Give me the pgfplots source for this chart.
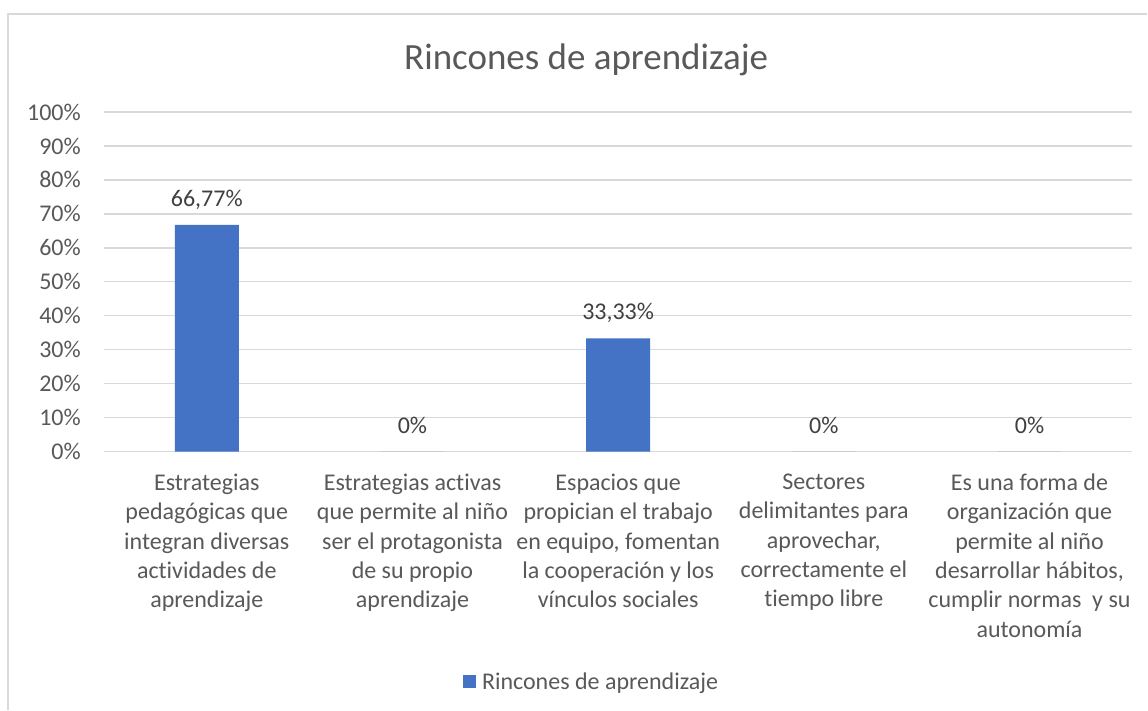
\documentclass[border=0pt]{standalone}
\usepackage{pgfplots}
\pgfplotsset{compat=1.18}
\usepackage{fontspec}
\setmainfont{Carlito}[Ligatures=NoCommon]
\definecolor{barblue}{HTML}{4472C4}
\definecolor{gridgray}{HTML}{D9D9D9}
\definecolor{txtgray}{HTML}{595959}
\definecolor{lblgray}{HTML}{404040}
\begin{document}
\begin{tikzpicture}[x=1pt,y=1pt]
\path[fill=white] (0,0) rectangle (1148,710);
\draw[gridgray, line width=1.3pt] (8,0) -- (8,696) -- (1148,696);
\node[anchor=base, text=txtgray, font=\fontsize{37}{44}\selectfont] at (586.5,640) {Rincones de aprendizaje};
\begin{axis}[
  at={(104pt,258pt)}, anchor=south west,
  scale only axis, width=1029pt, height=340pt,
  xmin=-0.5, xmax=4.5, ymin=0, ymax=100,
  ytick={0,10,...,100},
  yticklabel={\pgfmathprintnumber{\tick}\%},
  /pgf/number format/assume math mode=true,
  xtick={0,1,2,3,4},
  xticklabels={
    {Estrategias\\pedagógicas que\\integran diversas\\actividades de\\aprendizaje},
    {Estrategias activas\\que permite al niño\\ser el protagonista\\de su propio\\aprendizaje},
    {Espacios que\\propician el trabajo\\en equipo, fomentan\\la cooperación y los\\vínculos sociales},
    {Sectores\\delimitantes para\\aprovechar,\\correctamente el\\tiempo libre},
    {Es una forma de\\organización que\\permite al niño\\desarrollar hábitos,\\cumplir normas \ y su\\autonomía}},
  xticklabel style={align=center, inner sep=0pt, yshift=-22pt,
    font=\fontsize{24}{29.3}\selectfont, text=txtgray},
  yticklabel style={inner sep=0pt, xshift=-23pt, font=\fontsize{24}{29}\selectfont, text=txtgray},
  major tick length=0pt,
  axis line style={draw=none},
  ymajorgrids, grid style={gridgray, line width=1.3pt},
  ybar, bar width=64pt,
  point meta=explicit symbolic,
  nodes near coords,
  nodes near coords style={anchor=base, yshift=18.5pt, inner sep=0pt, font=\fontsize{24}{29}\selectfont, text=lblgray},
  legend style={at={(axis description cs:0.349,-0.676)}, anchor=west, draw=none, fill=none,
    inner sep=0pt, font=\fontsize{24}{29}\selectfont, text=txtgray},
  legend image code/.code={\fill[#1] (0pt,-6.5pt) rectangle (13pt,6.5pt); \path (17pt,0pt);},
]
\addplot[fill=barblue, draw=none] coordinates {
  (0,66.77) [66,77\%]
  (1,0) [0\%]
  (2,33.33) [33,33\%]
  (3,0) [0\%]
  (4,0) [0\%]
};
\addlegendentry{Rincones de aprendizaje}
\end{axis}
\end{tikzpicture}
\end{document}
